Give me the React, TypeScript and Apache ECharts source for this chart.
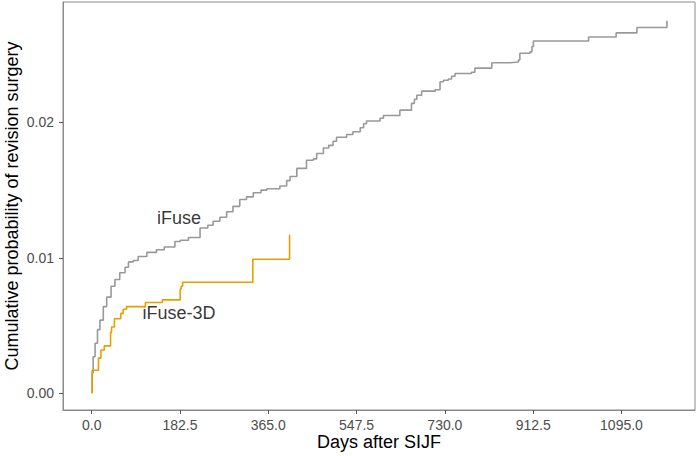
import React, { useEffect, useRef } from "react";
import * as echarts from "echarts";

// iFuse cumulative probability (day, value) step events
const iFuseDays = [1, 1, 3, 7, 12, 17, 24, 31, 40, 48, 58, 69, 76, 86, 96, 114, 134, 150, 172, 183, 200, 224, 240, 251, 265, 279, 292, 306, 320, 334, 350, 362, 389, 403, 410, 424, 444, 458, 465, 479, 490, 499, 506, 527, 540, 555, 562, 568, 596, 603, 637, 661, 667, 672, 682, 710, 720, 727, 737, 744, 751, 785, 792, 827, 865, 882, 885, 906, 910, 913, 1027, 1084, 1127, 1189];
const iFuseValues = [0, 0.0015, 0.0027, 0.0037, 0.0047, 0.0054, 0.0064, 0.0071, 0.0079, 0.0084, 0.0089, 0.0093, 0.0097, 0.0098, 0.0101, 0.0104, 0.0106, 0.0108, 0.0112, 0.0113, 0.0115, 0.0122, 0.0124, 0.0127, 0.013, 0.0134, 0.0138, 0.0143, 0.0145, 0.0148, 0.015, 0.0151, 0.0153, 0.0157, 0.016, 0.0166, 0.0172, 0.0173, 0.0177, 0.0181, 0.0183, 0.0186, 0.0189, 0.0191, 0.0193, 0.0196, 0.0199, 0.0201, 0.0203, 0.0205, 0.0209, 0.0214, 0.0217, 0.022, 0.0223, 0.0224, 0.023, 0.0231, 0.0232, 0.0234, 0.0236, 0.0237, 0.024, 0.0244, 0.02445, 0.0246, 0.0251, 0.0252, 0.0256, 0.026, 0.0263, 0.0266, 0.027, 0.0275];

// iFuse-3D cumulative probability
const iFuse3DDays = [1, 1, 14, 19, 26, 39, 41, 47, 60, 65, 72, 111, 146, 183, 185, 188, 333, 409];
const iFuse3DValues = [0, 0.0017, 0.0026, 0.0032, 0.0035, 0.0045, 0.0049, 0.0055, 0.0059, 0.0062, 0.0064, 0.0067, 0.0069, 0.0077, 0.0079, 0.0082, 0.0099, 0.0117];

const xTicks = [0, 182.5, 365, 547.5, 730, 912.5, 1095];
const yTicks = [0, 0.01, 0.02];

const seriesLabels = ["iFuse", "iFuse-3D"];
const labelDays = [180.7, 180.5];
const labelValues = [0.01294, 0.00593];

const GREY = "#999999";
const ORANGE = "#E69F00";

export default function App() {
  const ref = useRef<HTMLDivElement>(null);
  useEffect(() => {
    if (!ref.current) return;
    const chart = echarts.init(ref.current, undefined, { renderer: "svg" });
    const zip = (a: number[], b: number[]) => a.map((d, i) => [d, b[i]]);
    chart.setOption({
      animation: false,
      grid: {
        left: 63,
        top: 2,
        right: 2,
        bottom: 46,
        show: true,
        borderColor: "#8a8a8a",
        borderWidth: 1,
        containLabel: false,
        outerBoundsMode: "none",
      },
      xAxis: {
        type: "value",
        min: -59.3,
        max: 1247,
        name: "Days after SIJF",
        nameLocation: "middle",
        nameGap: 23,
        nameMoveOverlap: false,
        nameTextStyle: { fontSize: 18, color: "#000", fontFamily: "Liberation Sans" },
        splitLine: { show: false },
        axisLine: { show: true, onZero: false, lineStyle: { color: "#8a8a8a" } },
        axisTick: { show: true, customValues: xTicks, length: 4, lineStyle: { color: "#555" } },
        axisLabel: {
          customValues: xTicks,
          formatter: (v: number) => v.toFixed(1),
          fontSize: 14,
          color: "#4d4d4d",
          margin: 8,
          fontFamily: "Liberation Sans",
        },
      },
      yAxis: {
        type: "value",
        min: -0.00123,
        max: 0.02888,
        name: "Cumulative probability of revision surgery",
        nameLocation: "middle",
        nameGap: 42,
        nameMoveOverlap: false,
        nameTextStyle: { fontSize: 18, color: "#000", fontFamily: "Liberation Sans" },
        splitLine: { show: false },
        axisLine: { show: true, onZero: false, lineStyle: { color: "#8a8a8a" } },
        axisTick: { show: true, customValues: yTicks, length: 4, lineStyle: { color: "#555" } },
        axisLabel: {
          customValues: yTicks,
          formatter: (v: number) => v.toFixed(2),
          fontSize: 14,
          color: "#4d4d4d",
          margin: 9,
          fontFamily: "Liberation Sans",
        },
      },
      series: [
        {
          type: "line",
          name: "iFuse",
          step: "end",
          showSymbol: false,
          data: zip(iFuseDays, iFuseValues),
          lineStyle: { color: GREY, width: 1.6 },
        },
        {
          type: "line",
          name: "iFuse-3D",
          step: "end",
          showSymbol: false,
          data: zip(iFuse3DDays, iFuse3DValues),
          lineStyle: { color: ORANGE, width: 1.6 },
        },
        {
          type: "scatter",
          symbolSize: 0,
          silent: true,
          data: seriesLabels.map((n, i) => ({ value: [labelDays[i], labelValues[i]], name: n })),
          label: {
            show: true,
            position: "inside",
            formatter: (p: any) => p.name,
            fontSize: 18,
            color: "#000",
            fontFamily: "Liberation Sans",
          },
        },
      ],
    });
    return () => chart.dispose();
  }, []);
  return <div ref={ref} style={{ width: 697, height: 456, position: "absolute", left: 0, top: 0 }} />;
}
